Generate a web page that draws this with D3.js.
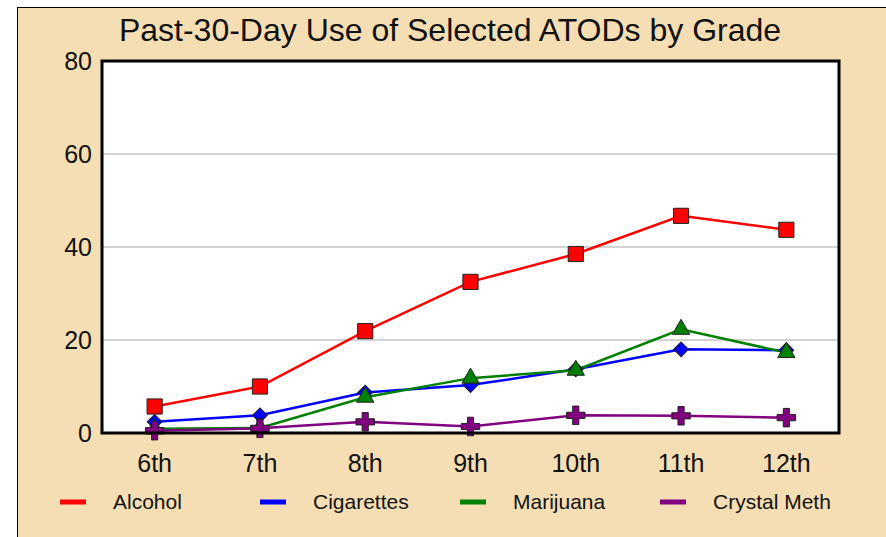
<html>
<head>
<meta charset="UTF-8"/>
<script src="https://d3js.org/d3.v7.min.js"></script>
<style>
  body { margin: 0; background: #fff; }
  svg text { font-family: "Liberation Sans", Arial, sans-serif; fill: #111; }
</style>
</head>
<body>
<script>
  var grades = ["6th", "7th", "8th", "9th", "10th", "11th", "12th"];
  var alcohol = [5.7, 10.0, 21.9, 32.5, 38.5, 46.7, 43.7];
  var cigarettes = [2.4, 3.8, 8.7, 10.3, 13.7, 18.0, 17.8];
  var marijuana = [0.9, 1.1, 7.7, 11.8, 13.5, 22.3, 17.3];
  var crystalMeth = [0.5, 1.0, 2.4, 1.4, 3.8, 3.7, 3.3];
  var yTicks = [0, 20, 40, 60, 80];

  var series = [
    {name: "Alcohol", values: alcohol, color: "#ff0000", symbol: d3.symbolSquare, size: 230, rot: 0},
    {name: "Cigarettes", values: cigarettes, color: "#0000ff", symbol: d3.symbolSquare, size: 110, rot: 45},
    {name: "Marijuana", values: marijuana, color: "#008000", symbol: d3.symbolTriangle, size: 130, rot: 0},
    {name: "Crystal Meth", values: crystalMeth, color: "#800080", symbol: d3.symbolCross, size: 190, rot: 0}
  ];

  var W = 886, H = 537;
  var margin = {top: 61, right: 47, bottom: 104, left: 102};
  var width = W - margin.left - margin.right,
      height = H - margin.top - margin.bottom;

  var svg = d3.select("body").append("svg")
    .attr("width", W).attr("height", H);

  // beige frame, cropped on the right and bottom
  svg.append("rect")
    .attr("x", 17.5).attr("y", 7.5)
    .attr("width", W + 10).attr("height", H + 10)
    .attr("fill", "#f5deb3").attr("stroke", "#000").attr("stroke-width", 1);

  svg.append("text")
    .attr("x", 450).attr("y", 41)
    .attr("text-anchor", "middle")
    .style("font-size", "32px")
    .text("Past-30-Day Use of Selected ATODs by Grade");

  var g = svg.append("g")
    .attr("transform", "translate(" + margin.left + "," + margin.top + ")");

  var x = d3.scaleBand().domain(grades).range([0, width]);
  var y = d3.scaleLinear().domain([0, 80]).range([height, 0]);

  g.append("rect")
    .attr("width", width).attr("height", height)
    .attr("fill", "#fff");

  g.selectAll(".grid")
    .data(yTicks.filter(function(d) { return d > 0 && d < 80; }))
    .enter().append("line")
    .attr("class", "grid")
    .attr("x1", 0).attr("x2", width)
    .attr("y1", function(d) { return y(d); })
    .attr("y2", function(d) { return y(d); })
    .attr("stroke", "#d3d3d3").attr("stroke-width", 2);

  var yAxis = g.append("g")
    .call(d3.axisLeft(y).tickValues(yTicks).tickSize(0).tickPadding(10));
  yAxis.select(".domain").remove();
  yAxis.selectAll("text").style("font-size", "25px").attr("dy", "0.35em");

  var xAxis = g.append("g")
    .attr("transform", "translate(0," + height + ")")
    .call(d3.axisBottom(x).tickSize(0).tickPadding(21));
  xAxis.select(".domain").remove();
  xAxis.selectAll("text").style("font-size", "25px");

  var line = d3.line()
    .x(function(d, i) { return x(grades[i]) + x.bandwidth() / 2; })
    .y(function(d) { return y(d); });

  series.forEach(function(s) {
    g.append("path")
      .datum(s.values)
      .attr("fill", "none")
      .attr("stroke", s.color)
      .attr("stroke-width", 2.5)
      .attr("d", line);
  });

  series.forEach(function(s) {
    g.selectAll(null)
      .data(s.values)
      .enter().append("path")
      .attr("transform", function(d, i) {
        return "translate(" + (x(grades[i]) + x.bandwidth() / 2) + "," + y(d) + ") rotate(" + s.rot + ")";
      })
      .attr("d", d3.symbol().type(s.symbol).size(s.size))
      .attr("fill", s.color)
      .attr("stroke", "#222")
      .attr("stroke-width", 1);
  });

  // plot border
  g.append("rect")
    .attr("width", width).attr("height", height)
    .attr("fill", "none").attr("stroke", "#000").attr("stroke-width", 3);

  var legend = svg.selectAll(".legend")
    .data(series)
    .enter().append("g")
    .attr("class", "legend")
    .attr("transform", function(d, i) { return "translate(" + (60 + i * 200) + ",502)"; });

  legend.append("rect")
    .attr("x", 0).attr("y", -2.5)
    .attr("width", 26).attr("height", 5)
    .attr("fill", function(d) { return d.color; });

  legend.append("text")
    .attr("x", 53).attr("y", 0)
    .attr("dy", "0.35em")
    .style("font-size", "21px")
    .text(function(d) { return d.name; });
</script>
</body>
</html>
